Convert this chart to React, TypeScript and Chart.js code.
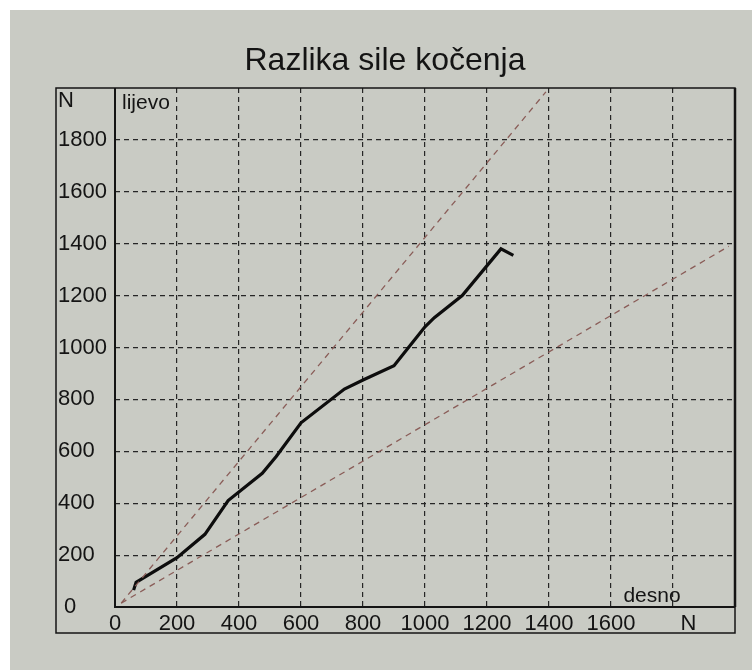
import React, { useEffect, useRef } from "react";
import { Chart, registerables } from "chart.js";

Chart.register(...registerables);

// Measured brake force curve (desno N -> lijevo N)
const DESNO = [60, 68, 200, 290, 365, 475, 520, 600, 740, 800, 900, 950, 1000, 1030, 1120, 1245, 1285];
const LIJEVO = [65, 95, 190, 280, 410, 515, 580, 710, 840, 875, 930, 1005, 1080, 1115, 1200, 1380, 1355];

// Tolerance limits (dashed)
const UPPER_X = [20, 1390];
const UPPER_Y = [15, 1985];
const LOWER_X = [20, 1980];
const LOWER_Y = [15, 1390];

const X_TICKS = [0, 200, 400, 600, 800, 1000, 1200, 1400, 1600, 1800, 1850];
const X_TICK_LABELS = ["0", "200", "400", "600", "800", "1000", "1200", "1400", "1600", "", "N"];
const Y_TICKS = [0, 200, 400, 600, 800, 1000, 1200, 1400, 1600, 1800, 1950];
const Y_TICK_LABELS = [" 0", "200", "400", "600", "800", "1000", "1200", "1400", "1600", "1800", "N"];

const TITLE = "Razlika sile kočenja";
const LEFT_LABEL = "lijevo";
const RIGHT_LABEL = "desno";

const FONT = "'Liberation Sans', Arial, sans-serif";
const INK = "#141414";
const BG = "#c9cbc4";

const pts = (xs: number[], ys: number[]) => xs.map((x, i) => ({ x, y: ys[i] }));

const framePlugin = {
  id: "frame",
  beforeDraw(chart: any) {
    const { ctx, width, height } = chart;
    ctx.save();
    ctx.fillStyle = "#ffffff";
    ctx.fillRect(0, 0, width, height);
    ctx.fillStyle = BG;
    ctx.fillRect(10, 10, width - 10, height - 10);
    ctx.restore();
  },
  afterDraw(chart: any) {
    const { ctx, chartArea } = chart;
    const { left, right, top, bottom } = chartArea;
    ctx.save();
    ctx.strokeStyle = INK;
    // outer frame
    ctx.lineWidth = 1.5;
    ctx.strokeRect(56, top, right - 56, 633 - top);
    // plot borders
    ctx.lineWidth = 2;
    ctx.beginPath();
    ctx.moveTo(left, top);
    ctx.lineTo(left, bottom);
    ctx.lineTo(right, bottom);
    ctx.stroke();
    ctx.lineWidth = 2.5;
    ctx.beginPath();
    ctx.moveTo(right, top);
    ctx.lineTo(right, bottom);
    ctx.stroke();
    // texts
    ctx.fillStyle = INK;
    ctx.textBaseline = "middle";
    ctx.font = `32px ${FONT}`;
    ctx.textAlign = "center";
    ctx.fillText(TITLE, 385, 61);
    ctx.font = `21px ${FONT}`;
    ctx.textAlign = "left";
    ctx.fillText(LEFT_LABEL, left + 7, top + 15);
    ctx.textAlign = "center";
    ctx.fillText(RIGHT_LABEL, 652, bottom - 11);
    ctx.restore();
  },
};

export default function App() {
  const ref = useRef<HTMLCanvasElement | null>(null);

  useEffect(() => {
    if (!ref.current) return;
    const gridColor = (c: any) =>
      c.tick && (c.tick.value === 1850 || c.tick.value === 1950) ? "rgba(0,0,0,0)" : "#262626";
    const chart = new Chart(ref.current, {
      type: "scatter",
      data: {
        datasets: [
          {
            data: pts(UPPER_X, UPPER_Y),
            showLine: true,
            borderColor: "#8a5d58",
            borderWidth: 1.3,
            borderDash: [6, 5],
            pointRadius: 0,
          },
          {
            data: pts(LOWER_X, LOWER_Y),
            showLine: true,
            borderColor: "#8a5d58",
            borderWidth: 1.3,
            borderDash: [6, 5],
            pointRadius: 0,
          },
          {
            data: pts(DESNO, LIJEVO),
            showLine: true,
            borderColor: "#0d0d0d",
            borderWidth: 3.2,
            pointRadius: 0,
            tension: 0,
          },
        ],
      },
      options: {
        animation: false,
        responsive: false,
        devicePixelRatio: 1,
        layout: { padding: { left: 58, right: 17, top: 88, bottom: 37 } },
        plugins: { legend: { display: false }, tooltip: { enabled: false }, title: { display: false } },
        scales: {
          x: {
            type: "linear",
            min: 0,
            max: 2000,
            afterBuildTicks: (s: any) => {
              s.ticks = X_TICKS.map((v) => ({ value: v }));
            },
            afterFit: (s: any) => {
              s.height = 26;
            },
            ticks: {
              autoSkip: false,
              maxRotation: 0,
              padding: 4,
              color: INK,
              font: { family: FONT, size: 22 },
              callback: (_v: any, i: number) => X_TICK_LABELS[i],
            },
            grid: { color: gridColor, lineWidth: 1.2, drawTicks: false },
            border: { display: false, dash: [5, 4] },
          },
          y: {
            type: "linear",
            min: 0,
            max: 2000,
            afterBuildTicks: (s: any) => {
              s.ticks = Y_TICKS.map((v) => ({ value: v }));
            },
            afterFit: (s: any) => {
              s.width = 57;
            },
            ticks: {
              autoSkip: false,
              crossAlign: "far",
              padding: 3,
              color: INK,
              font: { family: FONT, size: 22 },
              callback: (_v: any, i: number) => Y_TICK_LABELS[i],
            },
            grid: { color: gridColor, lineWidth: 1.2, drawTicks: false },
            border: { display: false, dash: [5, 4] },
          },
        },
      },
      plugins: [framePlugin],
    } as any);
    return () => chart.destroy();
  }, []);

  return (
    <div style={{ position: "fixed", left: 0, top: 0, width: 752, height: 670 }}>
      <canvas ref={ref} width={752} height={670} style={{ width: 752, height: 670, display: "block" }} />
    </div>
  );
}
